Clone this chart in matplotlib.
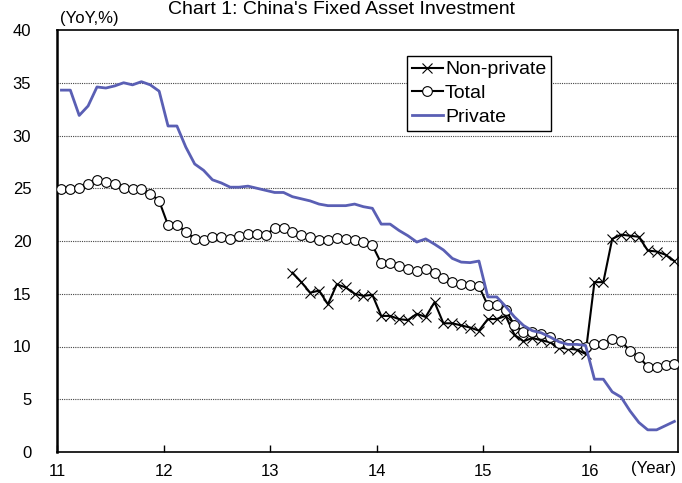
import matplotlib
matplotlib.use("Agg")
import matplotlib.pyplot as plt
import numpy as np

plt.rcParams['font.family'] = ['Liberation Sans', 'DejaVu Sans']

# ---- data (monthly YoY %, YTD; Jan repeats the Jan-Feb figure) ----
total_start = (2011, 1)
total = [24.9, 24.9, 25.0, 25.4, 25.8, 25.6, 25.4, 25.0, 24.9, 24.9, 24.5, 23.8,
         21.5, 21.5, 20.9, 20.2, 20.1, 20.4, 20.4, 20.2, 20.5, 20.7, 20.7, 20.6,
         21.2, 21.2, 20.9, 20.6, 20.4, 20.1, 20.1, 20.3, 20.2, 20.1, 19.9, 19.6,
         17.9, 17.9, 17.6, 17.3, 17.2, 17.3, 17.0, 16.5, 16.1, 15.9, 15.8, 15.7,
         13.9, 13.9, 13.5, 12.0, 11.4, 11.4, 11.2, 10.9, 10.3, 10.2, 10.2, 10.0,
         10.2, 10.2, 10.7, 10.5, 9.6, 9.0, 8.1, 8.1, 8.2, 8.3]

private_start = (2011, 1)
private = [34.3, 34.3, 31.9, 32.8, 34.6, 34.5, 34.7, 35.0, 34.8, 35.1, 34.8, 34.2,
           30.9, 30.9, 28.9, 27.3, 26.7, 25.8, 25.5, 25.1, 25.1, 25.2, 25.0, 24.8,
           24.6, 24.6, 24.2, 24.0, 23.8, 23.5, 23.35, 23.35, 23.35, 23.5, 23.25, 23.1,
           21.6, 21.6, 21.0, 20.5, 19.9, 20.2, 19.7, 19.15, 18.35, 18.0, 17.95, 18.1,
           14.7, 14.7, 13.8, 12.8, 12.0, 11.5, 11.3, 10.9, 10.45, 10.2, 10.2, 10.1,
           6.9, 6.9, 5.7, 5.2, 3.9, 2.8, 2.1, 2.1, 2.5, 2.9]

nonprivate_start = (2013, 3)
nonprivate = [17.0, 16.1, 15.1, 15.3, 14.0, 15.9, 15.6, 15.0, 14.8, 14.9,
              12.9, 12.9, 12.6, 12.5, 13.1, 12.8, 14.2, 12.2, 12.2, 12.0, 11.8, 11.5,
              12.6, 12.6, 12.9, 11.1, 10.5, 10.8, 10.6, 10.4, 9.9, 9.8, 9.7, 9.3,
              16.1, 16.1, 20.2, 20.6, 20.5, 20.4, 19.1, 19.0, 18.7, 18.1]

year_ticks = [2011, 2012, 2013, 2014, 2015, 2016]
year_labels = ['11', '12', '13', '14', '15', '16']
y_ticks = [0, 5, 10, 15, 20, 25, 30, 35, 40]


def month_x(start, n):
    y0, m0 = start
    idx = np.arange(n) + (m0 - 1)
    return y0 + (idx + 0.5) / 12.0


fig = plt.figure(figsize=(6.82, 4.83), dpi=100)
ax = fig.add_axes([57/682, 1 - 452/483, (678-57)/682, (452-30)/483])

ax.plot(month_x(nonprivate_start, len(nonprivate)), nonprivate, color='black',
        lw=1.5, marker='x', ms=6.5, mew=0.8, label='Non-private', zorder=3)
ax.plot(month_x(total_start, len(total)), total, color='black', lw=1.5,
        marker='o', ms=7, mfc='white', mec='black', mew=0.8, label='Total', zorder=4)
ax.plot(month_x(private_start, len(private)), private, color='#5a5fb4', lw=2.0,
        label='Private', zorder=5)

ax.set_xlim(2011, 2011 + (678-57)/106.6)
ax.set_ylim(0, 40)
ax.set_yticks(y_ticks)
ax.set_xticks(year_ticks)
ax.set_xticklabels(year_labels)
ax.tick_params(axis='y', length=0, pad=18.5, labelsize=12)
ax.tick_params(axis='x', direction='in', length=5, width=1, pad=9, labelsize=12)

for v in y_ticks[1:-1]:
    ax.axhline(v, color='#444444', lw=0.8, ls=(0, (1, 1)), zorder=1)

for s in ax.spines.values():
    s.set_color('black')
    s.set_linewidth(1.2)
ax.spines['left'].set_linewidth(1.8)

ax.text(0.005, 1.01, '(YoY,%)', transform=ax.transAxes, fontsize=12,
        ha='left', va='bottom')
fig.text(676/682, 1 - 468/483, '(Year)', fontsize=12, ha='right', va='center')
fig.text(0.5, 1 - 1/483, "Chart 1: China's Fixed Asset Investment", fontsize=14,
         ha='center', va='top')

leg = ax.legend(loc='upper left', bbox_to_anchor=((407-57)/621, 1 - (56-30)/422),
                fontsize=14, frameon=True, fancybox=False, edgecolor='black',
                framealpha=1, labelspacing=0.32, handlelength=1.6,
                handletextpad=0.1, borderpad=0.25, borderaxespad=0)
leg.get_frame().set_linewidth(1.0)

fig.savefig('out.png', dpi=100)
